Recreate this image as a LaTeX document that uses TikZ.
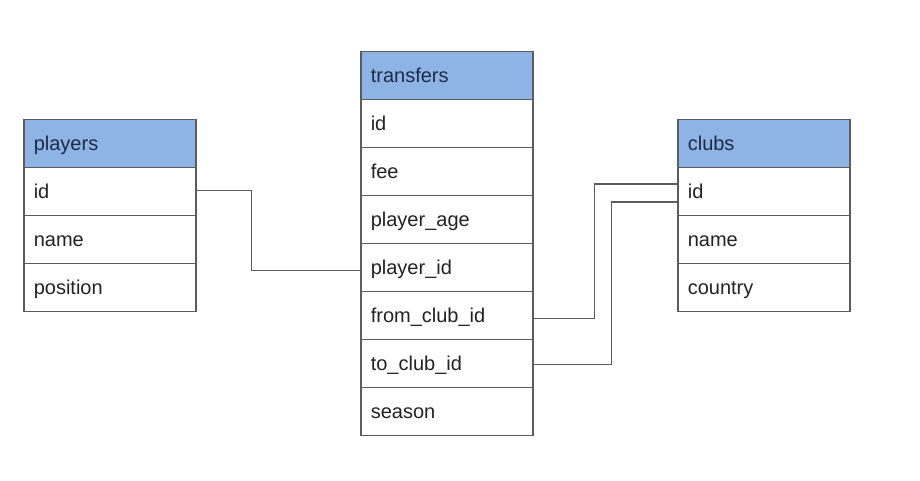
\documentclass[tikz,border=0pt]{standalone}
\usepackage{fontspec}
\setmainfont{Liberation Sans}
\definecolor{hdrfill}{HTML}{8DB4E5}
\definecolor{hdrtext}{HTML}{1C2B48}
\definecolor{bodytext}{HTML}{222222}
\definecolor{linegray}{HTML}{5C5C5C}
\begin{document}
\begin{tikzpicture}[x=1pt,y=-1pt,
  cell/.style={draw=linegray, line width=1.6pt, rectangle, anchor=north west,
    minimum width=172pt, minimum height=48pt, text width=152pt, inner xsep=10pt,
    inner ysep=0pt, align=left, text height=17pt, text depth=2pt,
    font=\fontsize{20}{23}\selectfont, text=bodytext},
  hdr/.style={cell, fill=hdrfill, text=hdrtext},
  link/.style={draw=linegray, line width=1.5pt}]
\useasboundingbox (0,0) rectangle (920,480);
% players
\node[hdr]  (pl-h)   at (23,118.5) {players};
\node[cell] (pl-id)  at (23,166.5) {id};
\node[cell] (pl-nm)  at (23,214.5) {name};
\node[cell] (pl-pos) at (23,262.5) {position};
% transfers
\node[hdr]  (tr-h)    at (360,50.5)  {transfers};
\node[cell] (tr-id)   at (360,98.5)  {id};
\node[cell] (tr-fee)  at (360,146.5) {fee};
\node[cell] (tr-age)  at (360,194.5) {player\_age};
\node[cell] (tr-pid)  at (360,242.5) {player\_id};
\node[cell] (tr-from) at (360,290.5) {from\_club\_id};
\node[cell] (tr-to)   at (360,338.5) {to\_club\_id};
\node[cell] (tr-sea)  at (360,386.5) {season};
% clubs
\node[hdr]  (cl-h)   at (677,118.5) {clubs};
\node[cell] (cl-id)  at (677,166.5) {id};
\node[cell] (cl-nm)  at (677,214.5) {name};
\node[cell] (cl-cty) at (677,262.5) {country};
% connectors
\draw[link] ([yshift=1pt]pl-id.east) -- ++(55,0) |- ([yshift=-3pt]tr-pid.west);
\draw[link] ([yshift=-3pt]tr-from.east) -- ++(61,0) |- ([yshift=7.5pt]cl-id.west);
\draw[link] ([yshift=-1pt]tr-to.east) -- ++(78,0) |- ([yshift=-10.5pt]cl-id.west);
\end{tikzpicture}
\end{document}
